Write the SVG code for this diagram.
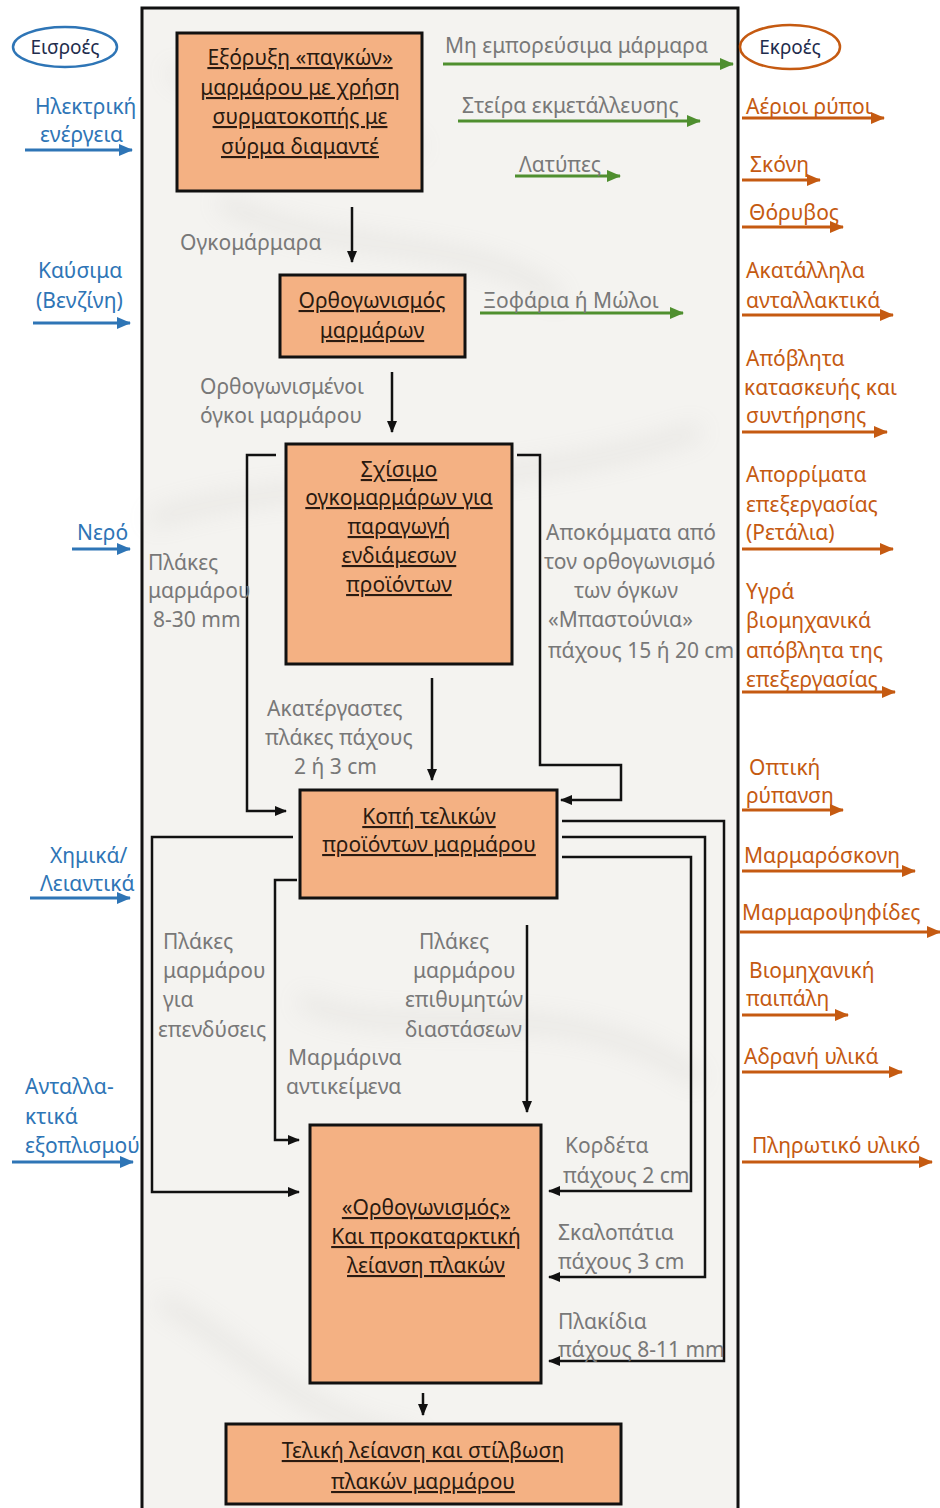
<svg xmlns="http://www.w3.org/2000/svg" width="940" height="1508" viewBox="0 0 940 1508">
<style>
text{font-family:"Noto Sans","Open Sans","DejaVu Sans",sans-serif;font-size:21px}
.box{fill:#f4b183;stroke:#111;stroke-width:3}
.bt{fill:#2a1a10;text-anchor:middle;text-decoration:underline}
.lbl{fill:#787878}
.in{fill:#2e75b6}
.out{fill:#c55a11}
.k{fill:none;stroke:#111;stroke-width:2.5}
.g{fill:none;stroke:#4f8f2f;stroke-width:3}
.b{fill:none;stroke:#2e75b6;stroke-width:3}
.o{fill:none;stroke:#c55a11;stroke-width:3}
</style>
<defs>
<marker id="ak" markerUnits="userSpaceOnUse" markerWidth="12" markerHeight="12" refX="11" refY="6" orient="auto"><path d="M0,1 L12,6 L0,11 z" fill="#111"/></marker>
<marker id="ag" markerUnits="userSpaceOnUse" markerWidth="14" markerHeight="12" refX="13" refY="6" orient="auto"><path d="M0,0 L14,6 L0,12 z" fill="#4f8f2f"/></marker>
<marker id="ab" markerUnits="userSpaceOnUse" markerWidth="14" markerHeight="12" refX="13" refY="6" orient="auto"><path d="M0,0 L14,6 L0,12 z" fill="#2e75b6"/></marker>
<marker id="ao" markerUnits="userSpaceOnUse" markerWidth="14" markerHeight="12" refX="13" refY="6" orient="auto"><path d="M0,0 L14,6 L0,12 z" fill="#c55a11"/></marker>
<filter id="blur" x="-20%" y="-50%" width="140%" height="200%"><feGaussianBlur stdDeviation="12"/></filter>
</defs>
<rect width="940" height="1508" fill="#ffffff"/>
<g id="frame">
<rect x="142" y="8" width="596" height="1520" fill="#f4f3f0" stroke="#111" stroke-width="3"/>
<g filter="url(#blur)" opacity="0.22" fill="none" stroke="#a9a7a3" stroke-width="12">
<path d="M170,70 C250,120 330,90 420,150"/>
<path d="M220,200 C320,260 480,230 560,300"/>
<path d="M150,520 C300,470 500,500 700,430"/>
<path d="M300,1000 C400,1050 560,980 700,1080"/>
<path d="M160,1300 C250,1350 300,1420 420,1440"/>
</g>
</g>
<g id="inputs-header"><ellipse cx="65" cy="47" rx="52" ry="20" fill="#fff" stroke="#2e75b6" stroke-width="2.5"/><text x="65" y="54" text-anchor="middle" fill="#1f2d4d" style="font-size:19px">Εισροές</text></g>
<g id="outputs-header"><ellipse cx="790" cy="47" rx="50" ry="22" fill="#fff" stroke="#c55a11" stroke-width="2.5"/><text x="790" y="54" text-anchor="middle" fill="#1f2d4d" style="font-size:19px">Εκροές</text></g>

<g id="n1"><rect class="box" x="177" y="33" width="245" height="158"/>
<text class="bt" x="300" y="65">Εξόρυξη «παγκών»</text><text class="bt" x="300" y="95">μαρμάρου με χρήση</text><text class="bt" x="300" y="124">συρματοκοπής με</text><text class="bt" x="300" y="154">σύρμα διαμαντέ</text></g>
<g id="n2"><rect class="box" x="280" y="275" width="185" height="82"/>
<text class="bt" x="372" y="308">Ορθογωνισμός</text><text class="bt" x="372" y="338">μαρμάρων</text></g>
<g id="n3"><rect class="box" x="286" y="444" width="226" height="220"/>
<text class="bt" x="399" y="477">Σχίσιμο</text><text class="bt" x="399" y="505">ογκομαρμάρων για</text><text class="bt" x="399" y="534">παραγωγή</text><text class="bt" x="399" y="563">ενδιάμεσων</text><text class="bt" x="399" y="592">προϊόντων</text></g>
<g id="n4"><rect class="box" x="300" y="790" width="257" height="108"/>
<text class="bt" x="429" y="824">Κοπή τελικών</text><text class="bt" x="429" y="852">προϊόντων μαρμάρου</text></g>
<g id="n5"><rect class="box" x="310" y="1125" width="231" height="258"/>
<text class="bt" x="426" y="1215">«Ορθογωνισμός»</text><text class="bt" x="426" y="1244">Και προκαταρκτική</text><text class="bt" x="426" y="1273">λείανση πλακών</text></g>
<g id="n6"><rect class="box" x="226" y="1424" width="395" height="80"/>
<text class="bt" x="423" y="1458">Τελική λείανση και στίλβωση</text><text class="bt" x="423" y="1489">πλακών μαρμάρου</text></g>

<g id="connectors">
<path class="k" d="M352,207 V262" marker-end="url(#ak)"/>
<path class="k" d="M392,372 V432" marker-end="url(#ak)"/>
<path class="k" d="M276,455 H247 V811 H286" marker-end="url(#ak)"/>
<path class="k" d="M517,455 H540 V765 H621 V800 H561" marker-end="url(#ak)"/>
<path class="k" d="M432,678 V780" marker-end="url(#ak)"/>
<path class="k" d="M293,837 H152 V1192 H299" marker-end="url(#ak)"/>
<path class="k" d="M297,880 H275 V1140 H299" marker-end="url(#ak)"/>
<path class="k" d="M527,925 V1112" marker-end="url(#ak)"/>
<path class="k" d="M562,821 H724 V1361 H549" marker-end="url(#ak)"/>
<path class="k" d="M562,837 H705 V1277 H549" marker-end="url(#ak)"/>
<path class="k" d="M562,857 H691 V1191 H549" marker-end="url(#ak)"/>
<path class="k" d="M423,1393 V1415" marker-end="url(#ak)"/>
<path class="g" d="M443,64 H733" marker-end="url(#ag)"/>
<path class="g" d="M458,121 H700" marker-end="url(#ag)"/>
<path class="g" d="M515,176 H620" marker-end="url(#ag)"/>
<path class="g" d="M480,313 H683" marker-end="url(#ag)"/>
<path class="b" d="M25,150 H132" marker-end="url(#ab)"/>
<path class="b" d="M33,323 H130" marker-end="url(#ab)"/>
<path class="b" d="M72,549 H130" marker-end="url(#ab)"/>
<path class="b" d="M30,898 H130" marker-end="url(#ab)"/>
<path class="b" d="M12,1162 H133" marker-end="url(#ab)"/>
<path class="o" d="M742,118 H884" marker-end="url(#ao)"/>
<path class="o" d="M742,180 H820" marker-end="url(#ao)"/>
<path class="o" d="M742,227 H843" marker-end="url(#ao)"/>
<path class="o" d="M742,315 H893" marker-end="url(#ao)"/>
<path class="o" d="M742,432 H887" marker-end="url(#ao)"/>
<path class="o" d="M742,549 H893" marker-end="url(#ao)"/>
<path class="o" d="M742,692 H895" marker-end="url(#ao)"/>
<path class="o" d="M742,810 H843" marker-end="url(#ao)"/>
<path class="o" d="M742,871 H915" marker-end="url(#ao)"/>
<path class="o" d="M740,932 H940" marker-end="url(#ao)"/>
<path class="o" d="M742,1015 H848" marker-end="url(#ao)"/>
<path class="o" d="M742,1072 H902" marker-end="url(#ao)"/>
<path class="o" d="M742,1162 H932" marker-end="url(#ao)"/>
</g>

<g id="flow-labels">
<text class="lbl" x="180" y="250">Ογκομάρμαρα</text>
<text class="lbl" x="200" y="394">Ορθογωνισμένοι</text><text class="lbl" x="200" y="423">όγκοι μαρμάρου</text>
<text class="lbl" x="148" y="570">Πλάκες</text><text class="lbl" x="148" y="598">μαρμάρου</text><text class="lbl" x="153" y="627">8-30 mm</text>
<text class="lbl" x="546" y="540">Αποκόμματα από</text><text class="lbl" x="544" y="569">τον ορθογωνισμό</text><text class="lbl" x="574" y="598">των όγκων</text><text class="lbl" x="548" y="627">«Μπαστούνια»</text><text class="lbl" x="548" y="658">πάχους 15 ή 20 cm</text>
<text class="lbl" x="267" y="716">Ακατέργαστες</text><text class="lbl" x="265" y="745">πλάκες πάχους</text><text class="lbl" x="294" y="774">2 ή 3 cm</text>
<text class="lbl" x="163" y="949">Πλάκες</text><text class="lbl" x="163" y="978">μαρμάρου</text><text class="lbl" x="163" y="1007">για</text><text class="lbl" x="158" y="1037">επενδύσεις</text>
<text class="lbl" x="419" y="949">Πλάκες</text><text class="lbl" x="413" y="978">μαρμάρου</text><text class="lbl" x="405" y="1007">επιθυμητών</text><text class="lbl" x="405" y="1037">διαστάσεων</text>
<text class="lbl" x="288" y="1065">Μαρμάρινα</text><text class="lbl" x="286" y="1094">αντικείμενα</text>
<text class="lbl" x="565" y="1153">Κορδέτα</text><text class="lbl" x="563" y="1183">πάχους 2 cm</text>
<text class="lbl" x="558" y="1240">Σκαλοπάτια</text><text class="lbl" x="558" y="1269">πάχους 3 cm</text>
<text class="lbl" x="558" y="1329">Πλακίδια</text><text class="lbl" x="558" y="1357">πάχους 8-11 mm</text>
<text class="lbl" x="445" y="53">Μη εμπορεύσιμα μάρμαρα</text>
<text class="lbl" x="462" y="113">Στείρα εκμετάλλευσης</text>
<text class="lbl" x="519" y="172">Λατύπες</text>
<text class="lbl" x="483" y="308">Ξοφάρια ή Μώλοι</text>
</g>

<g id="inputs">
<text class="in" x="35" y="114">Ηλεκτρική</text><text class="in" x="40" y="142">ενέργεια</text>
<text class="in" x="38" y="278">Καύσιμα</text><text class="in" x="36" y="308">(Βενζίνη)</text>
<text class="in" x="77" y="540">Νερό</text>
<text class="in" x="50" y="863">Χημικά/</text><text class="in" x="40" y="891">Λειαντικά</text>
<text class="in" x="25" y="1094">Ανταλλα-</text><text class="in" x="25" y="1124">κτικά</text><text class="in" x="25" y="1153">εξοπλισμού</text>
</g>

<g id="outputs">
<text class="out" x="746" y="114">Αέριοι ρύποι</text>
<text class="out" x="750" y="172">Σκόνη</text>
<text class="out" x="749" y="220">Θόρυβος</text>
<text class="out" x="746" y="278">Ακατάλληλα</text><text class="out" x="746" y="308">ανταλλακτικά</text>
<text class="out" x="746" y="366">Απόβλητα</text><text class="out" x="744" y="395">κατασκευής και</text><text class="out" x="746" y="423">συντήρησης</text>
<text class="out" x="746" y="482">Απορρίματα</text><text class="out" x="746" y="512">επεξεργασίας</text><text class="out" x="746" y="540">(Ρετάλια)</text>
<text class="out" x="746" y="599">Υγρά</text><text class="out" x="746" y="628">βιομηχανικά</text><text class="out" x="746" y="658">απόβλητα της</text><text class="out" x="746" y="687">επεξεργασίας</text>
<text class="out" x="749" y="775">Οπτική</text><text class="out" x="746" y="803">ρύπανση</text>
<text class="out" x="744" y="863">Μαρμαρόσκονη</text>
<text class="out" x="742" y="920">Μαρμαροψηφίδες</text>
<text class="out" x="749" y="978">Βιομηχανική</text><text class="out" x="746" y="1006">παιπάλη</text>
<text class="out" x="744" y="1064">Αδρανή υλικά</text>
<text class="out" x="752" y="1153">Πληρωτικό υλικό</text>
</g>
</svg>
